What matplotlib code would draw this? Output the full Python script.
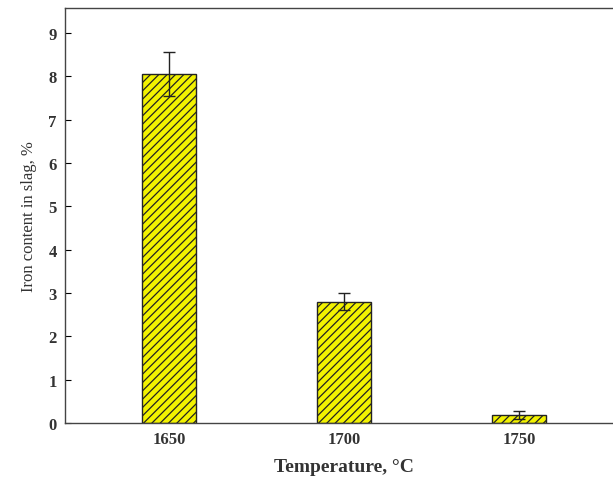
import matplotlib
matplotlib.use("Agg")
import matplotlib.pyplot as plt
import numpy as np

temps = ["1650", "1700", "1750"]
iron = [8.05, 2.80, 0.18]
iron_err = [0.50, 0.20, 0.10]

plt.rcParams["font.family"] = ["Liberation Serif", "DejaVu Serif"]
plt.rcParams["hatch.linewidth"] = 0.9
plt.rcParams["hatch.color"] = "#3a3a20"

fig = plt.figure(figsize=(6.13, 4.85), dpi=100)
ax = fig.add_axes([0.106, 0.126, 0.910, 0.856])

x = np.arange(len(temps))
ax.bar(x, iron, width=0.31, color="#f2f200", edgecolor="#222222", linewidth=1.0,
       hatch="////", yerr=iron_err, capsize=4,
       error_kw=dict(elinewidth=1.0, capthick=1.0, ecolor="#222222"))

ax.set_xlim(-0.594, 2.594)
ax.set_ylim(0, 9.58)
ax.set_xticks(x)
ax.set_xticklabels(temps)
ax.set_yticks(range(10))
ax.tick_params(axis="y", direction="in", length=4, width=0.8, labelsize=12, pad=6)
ax.tick_params(axis="x", length=0, labelsize=12, pad=6)
for lab in ax.get_xticklabels() + ax.get_yticklabels():
    lab.set_fontweight("bold")
    lab.set_color("#333333")
for s in ax.spines.values():
    s.set_color("#444444")
    s.set_linewidth(1.0)

ax.set_xlabel("Temperature, °C", fontsize=14, fontweight="bold", color="#333333", labelpad=8)
ax.set_ylabel("Iron content in slag, %", fontsize=12, color="#333333", labelpad=8)

fig.savefig("out.png", dpi=100)
